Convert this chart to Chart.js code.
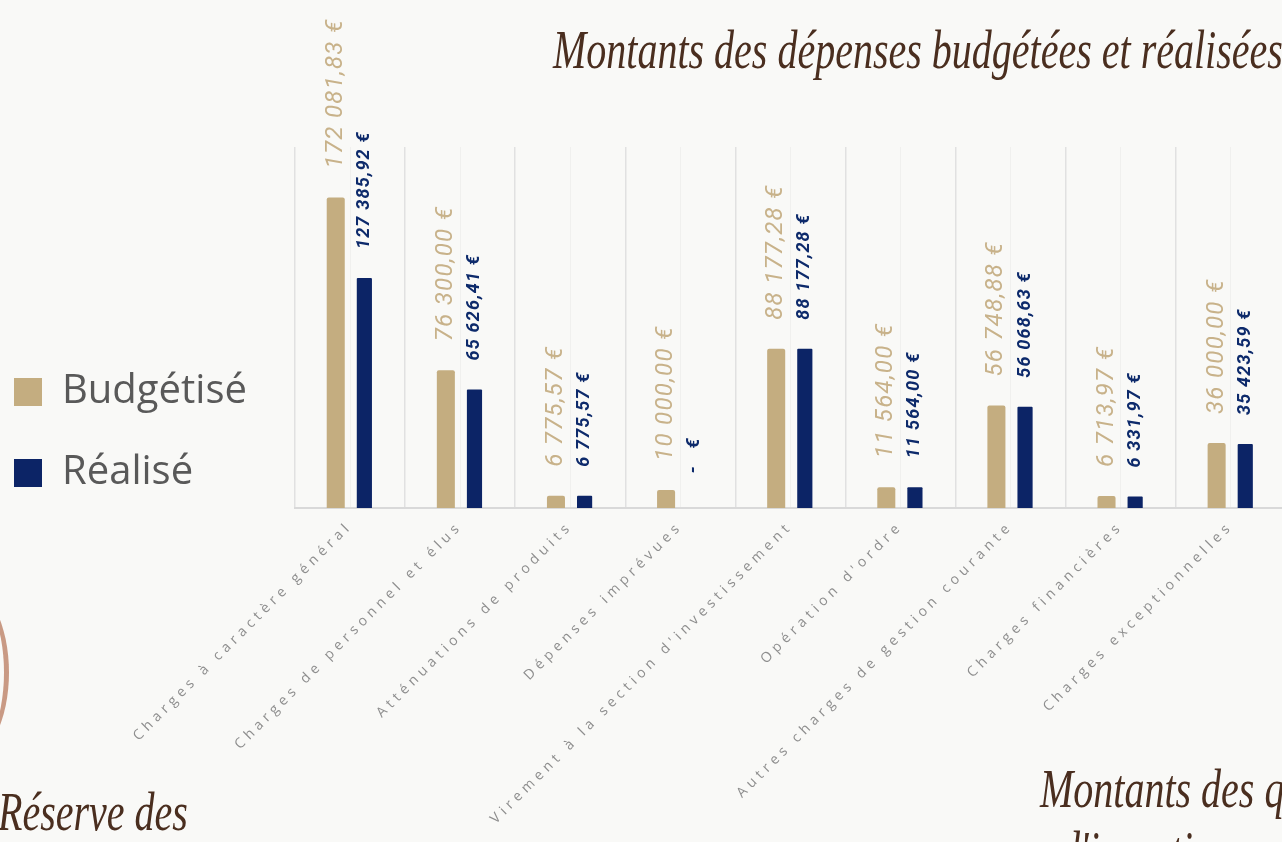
<!DOCTYPE html>
<html lang="fr">
<head>
<meta charset="utf-8">
<title>Montants des dépenses budgétées et réalisées</title>
<script src="https://cdn.jsdelivr.net/npm/chart.js@4.4.1/dist/chart.umd.min.js"></script>
<style>
  html, body { margin: 0; padding: 0; overflow: hidden; background: #f9f9f7; }
  body { width: 1282px; height: 842px; position: relative; }
  #wrap { position: absolute; left: 0; top: 0; width: 1300px; height: 842px; }
  .script {
    position: absolute; white-space: nowrap; color: #4a2e1f;
    font-family: "Liberation Serif", "DejaVu Serif", serif; font-style: italic;
    transform-origin: left top; transform: scale(1, 1.35);
  }
  #title { left: 553px; top: 18px; font-size: 40px; }
  #reserve { left: -2px; top: 780px; font-size: 40px; }
  #montants2 { left: 1040px; top: 758px; font-size: 40px; line-height: 46px; }
  #arc {
    position: absolute; left: -80px; top: 585px; width: 84px; height: 175px;
    border-right: 5px solid #c99a84; border-radius: 50%;
  }
</style>
</head>
<body>
<div id="wrap"><canvas id="depensesChart"></canvas></div>
<div id="arc"></div>
<div class="script" id="title">Montants des dépenses budgétées et réalisées en</div>
<div class="script" id="reserve">Réserve des</div>
<div class="script" id="montants2">Montants des q<br>&nbsp;&nbsp;d'investisse</div>

<script>
const categories = [
    'Charges à caractère général',
    'Charges de personnel et élus',
    'Atténuations de produits',
    'Dépenses imprévues',
    "Virement à la section d'investissement",
    "Opération d'ordre",
    'Autres charges de gestion courante',
    'Charges financières',
    'Charges exceptionnelles'
];
const budgetise = [172081.83, 76300.00, 6775.57, 10000.00, 88177.28, 11564.00, 56748.88, 6713.97, 36000.00];
const realise = [127385.92, 65626.41, 6775.57, 0, 88177.28, 11564.00, 56068.63, 6331.97, 35423.59];

const GOLD = '#c4ad80';
const NAVY = '#0c2466';

function euro(v) {
    if (!v) return ' -   €';
    const parts = v.toFixed(2).split('.');
    const ent = parts[0].replace(/\B(?=(\d{3})+(?!\d))/g, ' ');
    return ent + ',' + parts[1] + ' €';
}

// vertical value labels above the bars
const valueLabels = {
    id: 'valueLabels',
    afterDatasetsDraw(chart) {
        const ctx = chart.ctx;
        const styles = [
            { font: 'italic 400 24px Roboto', color: '#c8b28a', gap: 29, ls: '1.3px' },
            { font: 'italic 700 18px Roboto', color: '#0d2a6b', gap: 29, ls: '1.2px' }
        ];
        chart.data.datasets.forEach((ds, i) => {
            const meta = chart.getDatasetMeta(i);
            const st = styles[i];
            meta.data.forEach((bar, j) => {
                ctx.save();
                ctx.font = st.font;
                ctx.fillStyle = st.color;
                ctx.letterSpacing = st.ls;
                ctx.textAlign = 'left';
                ctx.textBaseline = 'middle';
                ctx.translate(bar.x, bar.y - st.gap);
                ctx.rotate(-Math.PI / 2);
                ctx.fillText(euro(ds.data[j]), 0, 0);
                ctx.restore();
            });
        });
    }
};

// spaced-out category labels, like the original, and no clipping to the axis box
const spacedTicks = {
    id: 'spacedTicks',
    afterLayout(chart) {
        const s = chart.scales.x;
        if (s._spaced) return;
        const orig = s.drawLabels.bind(s);
        s._computeLabelArea = () => undefined;
        s.drawLabels = function (area) {
            this.ctx.save();
            this.ctx.letterSpacing = '4.5px';
            orig(area);
            this.ctx.restore();
        };
        s._spaced = true;
    }
};

const el = document.getElementById('depensesChart');
const chart = new Chart(el, {
    type: 'bar',
    data: {
        labels: categories,
        datasets: [{
            label: 'Budgétisé',
            data: budgetise,
            backgroundColor: GOLD,
            borderRadius: 2,
            categoryPercentage: 0.52,
            barPercentage: 0.63
        }, {
            label: 'Réalisé',
            data: realise,
            backgroundColor: NAVY,
            borderRadius: 1,
            categoryPercentage: 0.52,
            barPercentage: 0.53
        }]
    },
    options: {
        responsive: true,
        maintainAspectRatio: false,
        animation: false,
        layout: { padding: { top: 147, left: -27, right: 14, bottom: 124 } },
        plugins: {
            legend: {
                display: true,
                position: 'left',
                align: 'center',
                labels: {
                    boxWidth: 28,
                    boxHeight: 28,
                    padding: 41,
                    color: '#595959',
                    font: { family: 'Open Sans', size: 40 }
                }
            },
            tooltip: { enabled: false }
        },
        scales: {
            x: {
                grid: { display: true, offset: true, color: '#e1e1e1', lineWidth: 1.5, drawTicks: false },
                border: { display: true, color: '#d9d9d9', width: 2 },
                ticks: {
                    minRotation: 45,
                    maxRotation: 45,
                    padding: 10,
                    autoSkip: false,
                    color: '#8e8e8e',
                    font: { family: 'Open Sans', size: 14 }
                },
                afterFit(scale) { scale.height = 210; }
            },
            x2: {
                type: 'category',
                position: 'bottom',
                offset: true,
                grid: { display: true, offset: false, color: '#f0f0ee', lineWidth: 1, drawTicks: false },
                border: { display: false },
                ticks: { display: false },
                afterFit(scale) { scale.height = 0; }
            },
            y: {
                min: 0,
                max: 200000,
                grid: { display: false },
                border: { display: false },
                ticks: { display: false },
                afterFit(scale) {
                    const lg = scale.chart.legend;
                    scale.width = 295 - (-27 + (lg ? lg.width : 0));
                }
            }
        }
    },
    plugins: [valueLabels, spacedTicks]
});
</script>
</body>
</html>
